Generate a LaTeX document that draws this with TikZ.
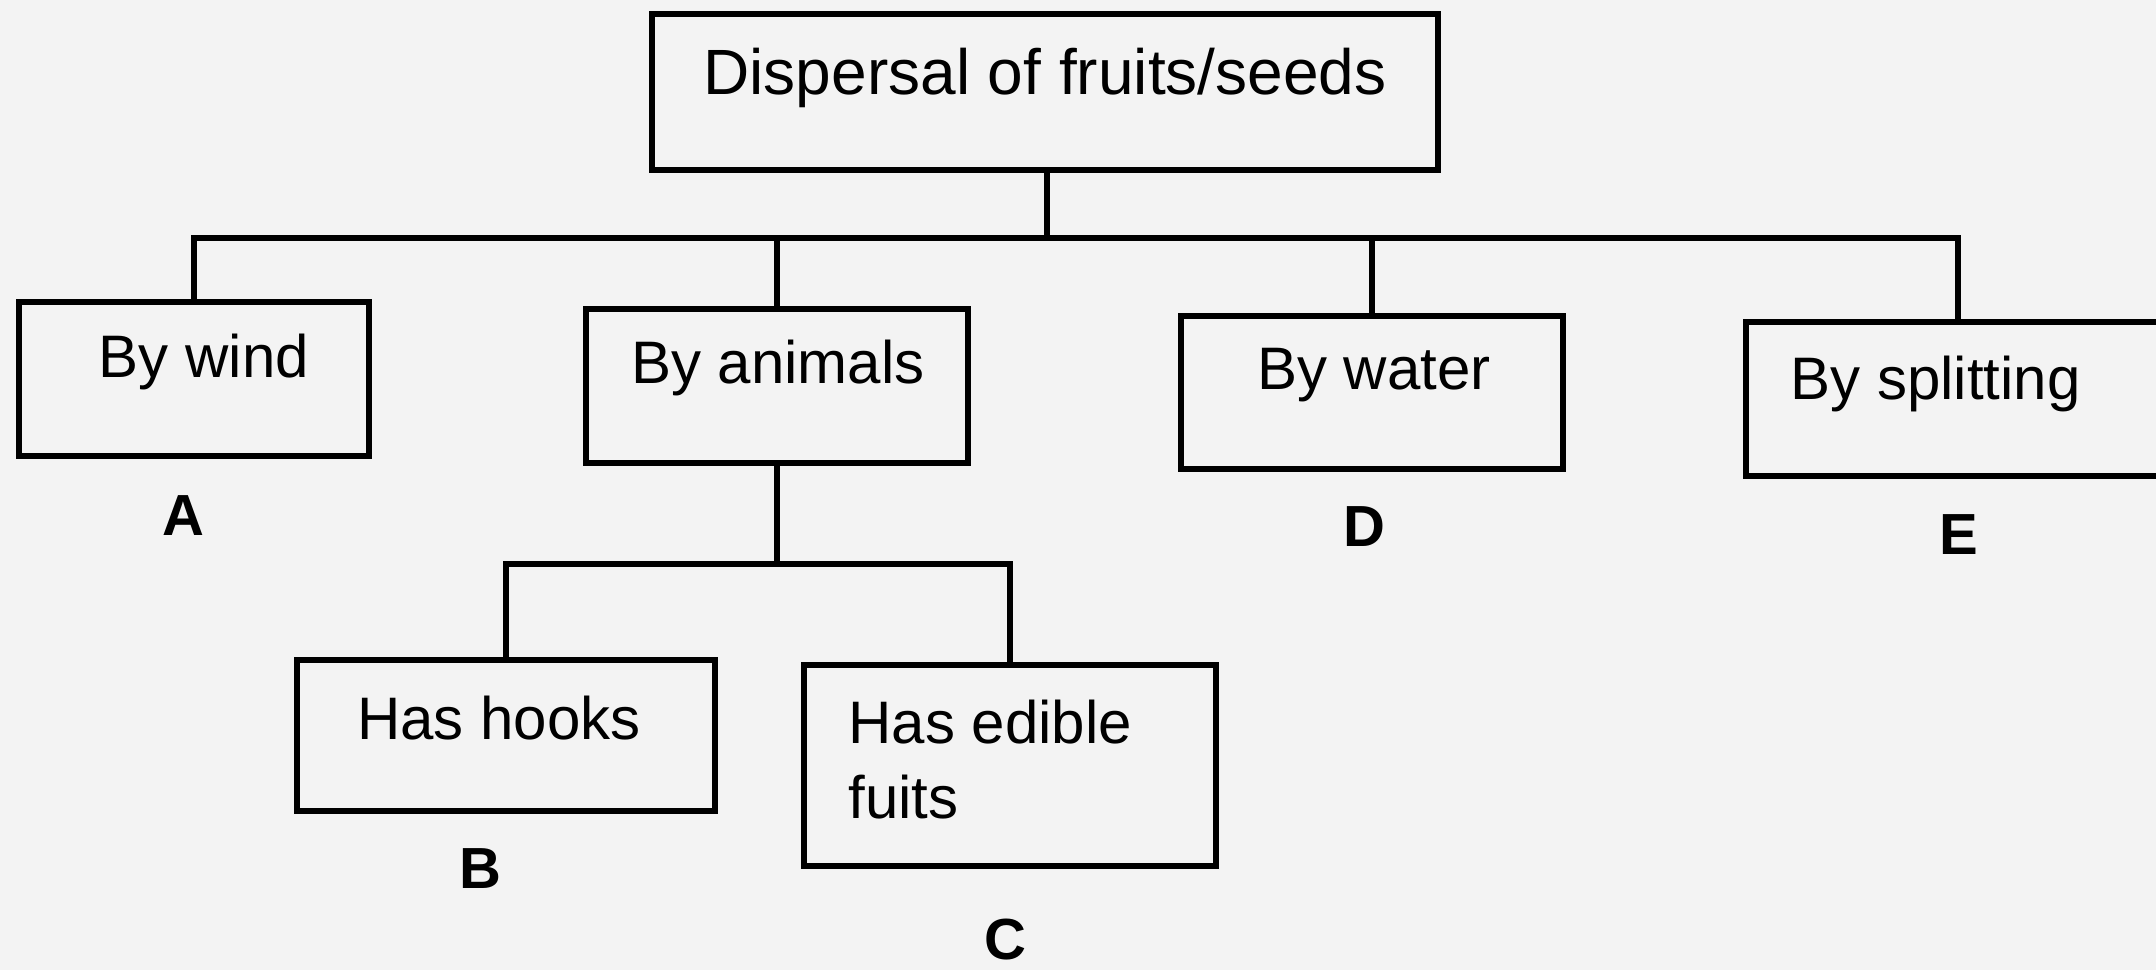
\documentclass[tikz,border=0pt]{standalone}
\usepackage{fontspec}
\setmainfont{Liberation Sans}
\definecolor{paper}{HTML}{F3F3F3}
\begin{document}
\begin{tikzpicture}[x=0.5pt,y=-0.5pt,
  box/.style={draw=black,line width=2.6pt,rectangle,inner sep=0pt},
  txt/.style={font=\fontsize{30}{37.5}\selectfont,inner sep=0pt},
  letter/.style={font=\fontsize{29}{34}\selectfont\bfseries,inner sep=0pt},
  link/.style={draw=black,line width=2.6pt}]
\fill[paper] (0,0) rectangle (2156,970);
\useasboundingbox (0,0) rectangle (2156,970);
% boxes
\node[box,minimum width=393pt,minimum height=78pt] (top) at (1045,92) {};
\node[box,minimum width=175pt,minimum height=77pt] (wind) at (194,379) {};
\node[box,minimum width=191pt,minimum height=77pt] (animals) at (777,386) {};
\node[box,minimum width=191pt,minimum height=76.5pt] (water) at (1372,392.5) {};
\node[box,minimum width=212pt,minimum height=77pt] (split) at (1958,399) {};
\node[box,minimum width=209pt,minimum height=75.5pt] (hooks) at (506,735.5) {};
\node[box,minimum width=206pt,minimum height=100.5pt] (edible) at (1010,765.5) {};
% texts
\node[txt,font=\fontsize{32}{38}\selectfont] (ttop) at (1045,78) {Dispersal of fruits/seeds};
\node[txt] (twind) at (204,362) {By wind};
\node[txt] (tanimals) at (778,368) {By animals};
\node[txt] (twater) at (1374,375) {By water};
\node[txt,anchor=west] (tsplit) at (1790,384) {By splitting};
\node[txt] (thooks) at (499,718) {Has hooks};
\node[txt,anchor=west,align=left] (tedible) at (848,760) {Has edible\\fuits};
% letters
\node[letter] (A) at (183,516) {A};
\node[letter] (B) at (480,869) {B};
\node[letter] (C) at (1005,940) {C};
\node[letter] (D) at (1364,527) {D};
\node[letter] (E) at (1959,535) {E};
% connectors
\coordinate (hub) at (1047,238);
\draw[link] (top.south -| hub) -- (hub);
\draw[link] (wind.north) |- (hub) -| (split.north);
\draw[link] (animals.north) -- (animals.north |- hub);
\draw[link] (water.north) -- (water.north |- hub);
\coordinate (hub2) at (777,564);
\draw[link] (animals.south) -- (hub2);
\draw[link] (hooks.north) |- (hub2) -| (edible.north);
\end{tikzpicture}
\end{document}
